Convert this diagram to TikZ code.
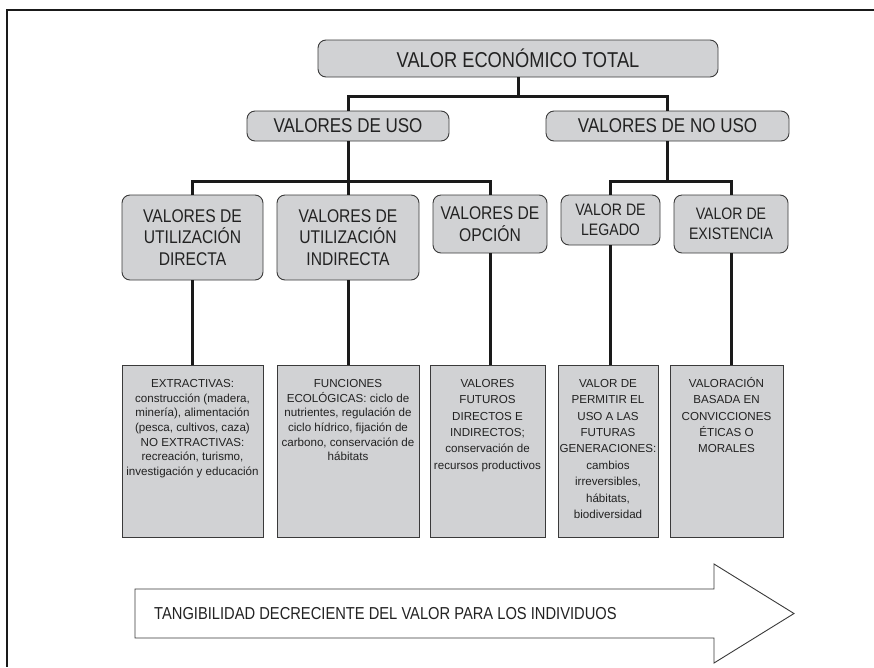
\documentclass[tikz,border=0pt]{standalone}
\usepackage{fontspec}
\setmainfont{Liberation Sans}
\newfontfamily\narrowfont[FakeStretch=0.85]{Liberation Sans}
\definecolor{boxfill}{HTML}{D1D2D4}
\definecolor{boxline}{HTML}{3A3A3A}
\definecolor{linkcol}{HTML}{1A1A1A}
\definecolor{txtcol}{HTML}{222222}
\begin{document}
\begin{tikzpicture}[x=1pt,y=-1pt,
  head/.style={draw=boxline, line width=0.9pt, fill=boxfill, rounded corners=8pt,
    inner sep=0pt, align=center, text=txtcol},
  headA/.style={head, font=\narrowfont\fontsize{21.5}{24}\selectfont},
  headB/.style={head, font=\narrowfont\fontsize{20}{22}\selectfont},
  headC/.style={head, font=\narrowfont\fontsize{18.4}{21.7}\selectfont},
  headD/.style={head, font=\narrowfont\fontsize{16.6}{20}\selectfont},
  infobox/.style={draw=boxline, line width=0.9pt, fill=boxfill, inner sep=0pt,
    minimum height=172pt},
  bodytxt/.style={inner sep=0pt, align=center, text=txtcol, anchor=north},
  bodyA/.style={bodytxt, font=\fontsize{11.6}{14.7}\selectfont, yshift=-11.9pt},
  bodyB/.style={bodytxt, font=\fontsize{11.6}{16.4}\selectfont, yshift=-10.7pt},
  link/.style={draw=linkcol, line width=3pt},
  frame/.style={draw=linkcol, line width=2pt}
]
\useasboundingbox (0,0) rectangle (874,667);

% outer frame (top and left edges)
\draw[frame] (874,10) -- (7,10) -- (7,667);

% level 1
\node[headA, minimum width=400pt, minimum height=37pt] (total) at (518,58.5) {VALOR ECONÓMICO TOTAL};

% level 2
\node[headB, minimum width=202pt, minimum height=30pt] (uso) at (348,126) {VALORES DE USO};
\node[headB, minimum width=243pt, minimum height=30pt] (nouso) at (667.5,126) {VALORES DE NO USO};

% level 3
\node[headC, minimum width=141pt, minimum height=85pt] (directa) at (192.5,237.5) {VALORES DE\\UTILIZACIÓN\\DIRECTA};
\node[headC, minimum width=142pt, minimum height=85pt] (indirecta) at (348,237.5) {VALORES DE\\UTILIZACIÓN\\INDIRECTA};
\node[headC, minimum width=114pt, minimum height=58pt] (opcion) at (490,224) {VALORES DE\\OPCIÓN};
\node[headD, minimum width=99pt, minimum height=50pt] (legado) at (610.5,220) {VALOR DE\\LEGADO};
\node[headD, minimum width=114pt, minimum height=58pt] (existencia) at (731,224) {VALOR DE\\EXISTENCIA};

% level 4 description boxes
\node[infobox, minimum width=141pt, anchor=north] (d1) at (192.5,365) {};
\node[infobox, minimum width=142pt, anchor=north] (d2) at (348,365) {};
\node[infobox, minimum width=115pt, anchor=north] (d3) at (487.5,365) {};
\node[infobox, minimum width=100pt, anchor=north] (d4) at (608,365) {};
\node[infobox, minimum width=113pt, anchor=north] (d5) at (726.5,365) {};

\node[bodyA] (t1) at (d1.north) {\strut EXTRACTIVAS:\\construcción (madera,\\minería), alimentación\\(pesca, cultivos, caza)\\NO EXTRACTIVAS:\\recreación, turismo,\\investigación y educación};
\node[bodyA] (t2) at (d2.north) {\strut FUNCIONES\\ECOLÓGICAS: ciclo de\\nutrientes, regulación de\\ciclo hídrico, fijación de\\carbono, conservación de\\hábitats};
\node[bodyB] (t3) at (d3.north) {\strut VALORES\\FUTUROS\\DIRECTOS E\\INDIRECTOS;\\conservación de\\recursos productivos};
\node[bodyB] (t4) at (d4.north) {\strut VALOR DE\\PERMITIR EL\\USO A LAS\\FUTURAS\\GENERACIONES:\\cambios\\irreversibles,\\hábitats,\\biodiversidad};
\node[bodyB] (t5) at (d5.north) {\strut VALORACIÓN\\BASADA EN\\CONVICCIONES\\ÉTICAS O\\MORALES};

% tree connectors
\coordinate (j1) at (518,96.5);
\coordinate (j2) at (348,181);
\coordinate (j3) at (667.5,181);
\draw[link] (total.south) -- (j1);
\draw[link] (uso.north) -- (uso.north |- j1) -- (nouso.north |- j1) -- (nouso.north);
\draw[link] (uso.south) -- (j2);
\draw[link] (directa.north) -- (directa.north |- j2) -- (opcion.north |- j2) -- (opcion.north);
\draw[link] (indirecta.north) -- (indirecta.north |- j2);
\draw[link] (nouso.south) -- (j3);
\draw[link] (legado.north) -- (legado.north |- j3) -- (existencia.north |- j3) -- (existencia.north);

% level 3 to level 4
\draw[link] (directa.south) -- (directa.south |- d1.north);
\draw[link] (indirecta.south) -- (indirecta.south |- d2.north);
\draw[link] (opcion.south) -- (opcion.south |- d3.north);
\draw[link] (legado.south) -- (legado.south |- d4.north);
\draw[link] (existencia.south) -- (existencia.south |- d5.north);

% bottom arrow
\draw[draw=boxline, line width=0.9pt, fill=white, line join=miter]
  (135,589) -- (714,589) -- (714,564) -- (794,613.5) -- (714,663) -- (714,638) -- (135,638) -- cycle;
\node[anchor=west, inner sep=0pt, text=txtcol, font=\narrowfont\fontsize{17.3}{20}\selectfont] (tang) at (154,613.5)
  {TANGIBILIDAD DECRECIENTE DEL VALOR PARA LOS INDIVIDUOS};
\end{tikzpicture}
\end{document}
